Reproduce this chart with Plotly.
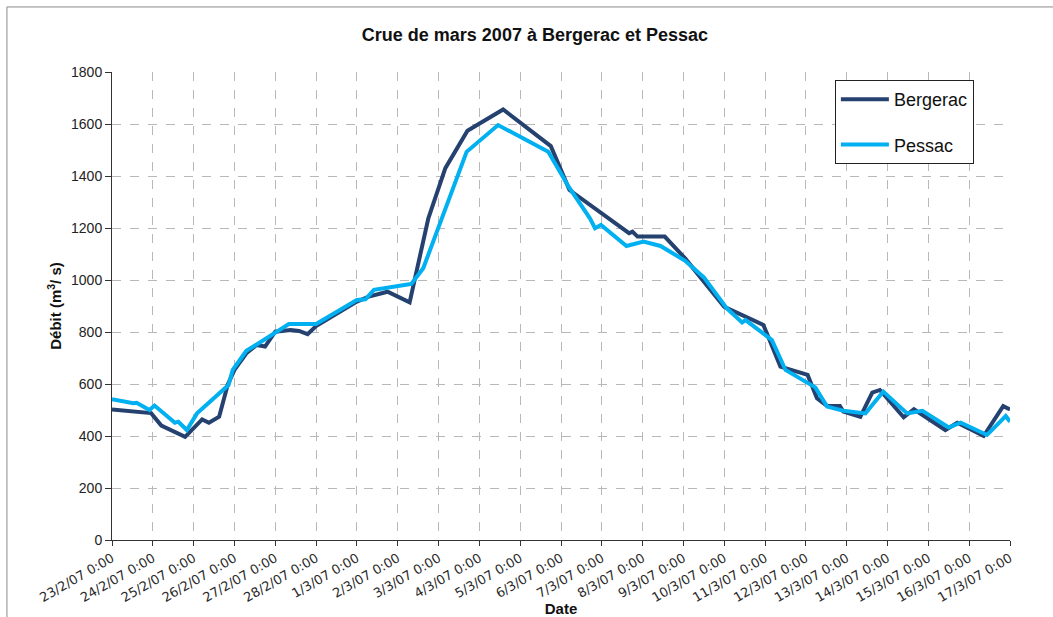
import plotly.graph_objects as go

bergerac_t = [
    "2007-02-23 00:00", "2007-02-23 23:00", "2007-02-24 05:00", "2007-02-24 19:00",
    "2007-02-25 05:00", "2007-02-25 09:00", "2007-02-25 15:00", "2007-02-25 20:00",
    "2007-02-26 00:00", "2007-02-26 07:00", "2007-02-26 13:00", "2007-02-26 18:00",
    "2007-02-27 00:00", "2007-02-27 09:00", "2007-02-27 14:00", "2007-02-27 19:00",
    "2007-02-28 00:00", "2007-03-01 00:00", "2007-03-01 07:00", "2007-03-01 18:00",
    "2007-03-02 07:00", "2007-03-02 18:00", "2007-03-03 04:00", "2007-03-03 17:00",
    "2007-03-04 14:00", "2007-03-05 18:00", "2007-03-06 05:00", "2007-03-07 16:00",
    "2007-03-07 18:00", "2007-03-07 21:00", "2007-03-08 13:00", "2007-03-09 01:00",
    "2007-03-10 00:00", "2007-03-10 09:00", "2007-03-10 19:00", "2007-03-10 23:00",
    "2007-03-11 09:00", "2007-03-11 13:00", "2007-03-12 01:00", "2007-03-12 06:30",
    "2007-03-12 12:30", "2007-03-12 20:00", "2007-03-12 22:00", "2007-03-13 08:00",
    "2007-03-13 15:00", "2007-03-13 19:30", "2007-03-14 09:30", "2007-03-14 15:30",
    "2007-03-15 10:00", "2007-03-15 17:00", "2007-03-16 08:30", "2007-03-16 20:00",
    "2007-03-17 00:00",
]
bergerac_q = [
    502, 488, 440, 397,
    464, 451, 474, 596,
    654, 718, 750, 744,
    801, 808, 804, 792,
    823, 917, 936, 955,
    914, 1237, 1430, 1574,
    1656, 1515, 1346, 1180,
    1186, 1167, 1167, 1083,
    897, 869, 836, 827,
    667, 658, 635, 545,
    515, 515, 494, 474,
    567, 577, 472, 503,
    423, 451, 400, 515,
    502,
]

pessac_t = [
    "2007-02-23 00:00", "2007-02-23 12:30", "2007-02-23 14:30", "2007-02-23 22:00",
    "2007-02-24 01:00", "2007-02-24 13:00", "2007-02-24 15:00", "2007-02-24 20:00",
    "2007-02-25 02:00", "2007-02-25 20:30", "2007-02-25 23:00", "2007-02-26 07:00",
    "2007-02-26 14:00", "2007-02-26 23:00", "2007-02-27 08:00", "2007-02-28 00:00",
    "2007-03-01 00:00", "2007-03-01 05:00", "2007-03-01 10:00", "2007-03-02 04:00",
    "2007-03-02 08:00", "2007-03-02 15:00", "2007-03-03 16:30", "2007-03-04 11:00",
    "2007-03-05 16:30", "2007-03-06 04:30", "2007-03-06 12:00", "2007-03-06 17:00",
    "2007-03-06 20:00", "2007-03-06 23:30", "2007-03-07 14:30", "2007-03-08 00:30",
    "2007-03-08 10:30", "2007-03-09 01:00", "2007-03-09 12:00", "2007-03-10 01:30",
    "2007-03-10 10:30", "2007-03-10 12:30", "2007-03-11 04:00", "2007-03-11 12:00",
    "2007-03-12 05:30", "2007-03-12 12:30", "2007-03-12 22:00", "2007-03-13 11:00",
    "2007-03-13 21:30", "2007-03-14 11:30", "2007-03-14 20:30", "2007-03-15 12:00",
    "2007-03-15 19:00", "2007-03-16 10:30", "2007-03-16 21:30", "2007-03-17 00:00",
]
pessac_q = [
    541, 526, 528, 500,
    517, 451, 455, 423,
    487, 596, 654, 728,
    756, 795, 831, 831,
    923, 926, 962, 981,
    985, 1045, 1493, 1596,
    1493, 1359, 1282, 1237,
    1199, 1212, 1131, 1148,
    1131, 1074, 1010, 891,
    837, 846, 769, 654,
    587, 513, 497, 487,
    571, 487, 497, 433,
    451, 404, 477, 455,
]

title_text = "Crue de mars 2007 à Bergerac et Pessac"
x_title = "Date"
y_title = "Débit (m<sup>3</sup>/ s)"

fig = go.Figure()
fig.add_trace(go.Scatter(x=bergerac_t, y=bergerac_q, mode="lines", name="Bergerac",
                         legendgroup="b", line=dict(color="#25416F", width=4)))
fig.add_trace(go.Scatter(x=pessac_t, y=pessac_q, mode="lines", name="Pessac",
                         legendgroup="p", line=dict(color="#00B0F0", width=4)))

fig.update_layout(
    width=1053, height=617,
    margin=dict(l=112, r=43, t=72, b=77, autoexpand=False),
    paper_bgcolor="white", plot_bgcolor="white",
    font=dict(family="Liberation Sans, Arial, sans-serif", color="#222"),
    title=dict(text="<b>" + title_text + "</b>", x=0.508, xanchor="center", y=0.943, yanchor="middle",
               font=dict(size=18, color="#111")),
    legend=dict(x=0.805, y=0.983, xanchor="left", yanchor="top",
                bordercolor="#222", borderwidth=1, bgcolor="white",
                font=dict(size=18, color="#111"), tracegroupgap=19,
                traceorder="grouped", itemwidth=48),
    showlegend=True,
)
fig.update_xaxes(
    range=["2007-02-23", "2007-03-17"], type="date", automargin=False,
    tick0="2007-02-23", dtick=86400000, tickformat="%-d/%-m/%y %-H:%M",
    tickangle=-30, tickfont=dict(size=13, family="DejaVu Sans, Verdana, sans-serif", color="#2a2a2a"),
    showline=True, linecolor="#333", linewidth=1,
    ticks="outside", ticklen=5, tickcolor="#333",
    showgrid=True, gridcolor="#B8B8B8", griddash="dash", gridwidth=1,
    title=dict(text="<b>" + x_title + "</b>", font=dict(size=15, color="#111"), standoff=2),
    zeroline=False,
)
fig.update_yaxes(
    range=[0, 1800], dtick=200, automargin=False,
    tickfont=dict(size=14, color="#222"),
    showline=True, linecolor="#333", linewidth=1,
    ticks="outside", ticklen=6, tickcolor="#333",
    showgrid=True, gridcolor="#B8B8B8", griddash="dash", gridwidth=1,
    title=dict(text="<b>" + y_title + "</b>", font=dict(size=15, color="#111"), standoff=5),
    zeroline=False,
)
fig.add_shape(type="line", xref="paper", yref="paper", x0=-0.117, x1=1.2, y0=1.139, y1=1.139,
              line=dict(color="#8A8A8A", width=1))
fig.add_shape(type="line", xref="paper", yref="paper", x0=-0.117, x1=-0.117, y0=-0.3, y1=1.139,
              line=dict(color="#8A8A8A", width=1))

fig.write_html("out.html", config={"displayModeBar": False},
               post_script="document.body.style.margin='0';")
